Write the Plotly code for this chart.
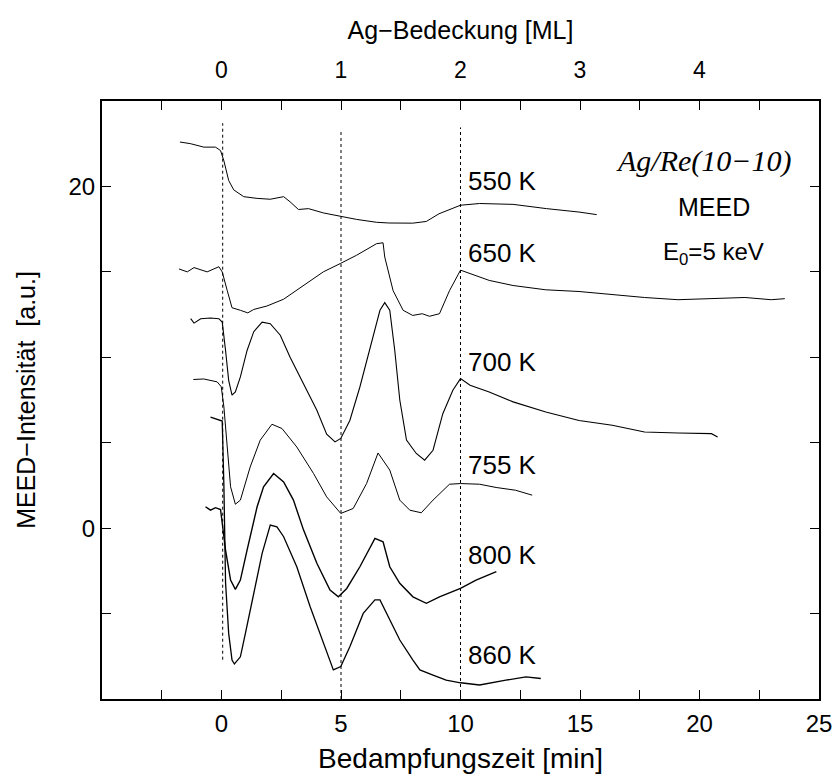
import plotly.graph_objects as go

# ---- data (time in min, intensity in a.u.) ----
x550 = [-1.74, -1.29, -0.74, -0.25, -0.04, 0.1, 0.3, 0.51, 0.93, 1.49, 2.04, 2.6, 2.87, 3.22, 3.64, 4.26,
        4.99, 5.65, 6.49, 7.0, 8.0, 8.57, 9.1, 10.0, 10.8, 12.2, 13.6, 14.4, 14.96, 15.7]
y550 = [22.6, 22.5, 22.3, 22.3, 22.1, 21.5, 20.35, 19.8, 19.4, 19.3, 19.25, 19.4, 19.1, 18.65, 18.7, 18.45,
        18.25, 18.07, 17.9, 17.86, 17.85, 17.95, 18.4, 18.9, 19.0, 18.95, 18.7, 18.6, 18.5, 18.35]

x650 = [-1.78, -1.43, -1.15, -0.6, -0.11, 0.03, 0.24, 0.44, 0.79, 1.1, 1.35, 1.9, 2.6, 3.43, 4.26, 4.99,
        5.65, 6.49, 6.76, 6.83, 7.18, 7.6, 8.0, 8.4, 8.7, 9.12, 9.54, 10.0, 10.4, 11.2, 12.2, 13.57,
        14.96, 16.35, 17.7, 19.1, 20.5, 21.9, 23.0, 23.57]
y650 = [15.17, 15.0, 15.25, 15.0, 15.3, 15.0, 13.9, 12.9, 12.75, 12.6, 12.8, 13.0, 13.4, 14.2, 15.0, 15.5,
        15.97, 16.65, 16.7, 15.87, 13.9, 12.75, 12.45, 12.55, 12.4, 12.55, 13.9, 15.1, 14.9, 14.5, 14.2, 13.95,
        13.85, 13.65, 13.5, 13.37, 13.43, 13.5, 13.37, 13.43]

x700 = [-1.29, -1.15, -0.87, -0.46, -0.11, 0.03, 0.17, 0.3, 0.44, 0.58, 0.79, 1.07, 1.35, 1.7, 2.04, 2.46,
        2.87, 3.43, 3.99, 4.4, 4.75, 4.99, 5.37, 5.79, 6.2, 6.63, 6.83, 7.04, 7.25, 7.46, 7.74, 8.15, 8.5,
        8.85, 9.26, 9.68, 10.0, 10.4, 11.2, 12.2, 13.57, 14.96, 16.35, 17.7, 19.1, 20.5, 20.76]
y700 = [12.26, 12.0, 12.26, 12.3, 12.26, 12.06, 10.4, 8.65, 7.78, 7.97, 8.85, 10.4, 11.5, 12.06, 11.97, 11.29,
        10.0, 8.46, 6.9, 5.5, 5.05, 5.25, 6.3, 8.26, 10.4, 12.75, 13.2, 12.75, 10.4, 7.5, 5.15, 4.37, 3.98,
        4.56, 6.7, 8.07, 8.75, 8.36, 7.97, 7.39, 6.8, 6.3, 6.02, 5.63, 5.57, 5.53, 5.34]

x755 = [-1.18, -0.74, -0.18, -0.01, 0.1, 0.24, 0.38, 0.58, 0.79, 1.2, 1.62, 2.11, 2.53, 3.15, 3.85, 4.4,
        4.99, 5.51, 6.07, 6.55, 7.04, 7.46, 7.88, 8.36, 8.85, 9.54, 10.0, 10.8, 11.49, 12.3, 13.0]
y755 = [8.7, 8.73, 8.56, 8.27, 7.1, 4.56, 2.42, 1.4, 1.64, 3.58, 5.15, 6.08, 5.83, 4.75, 3.2, 1.83,
        0.86, 1.15, 2.61, 4.4, 3.4, 1.64, 1.05, 0.9, 1.64, 2.57, 2.61, 2.57, 2.38, 2.22, 1.93]

x800 = [-0.67, -0.46, -0.25, -0.04, 0.17, 0.38, 0.58, 0.79, 1.07, 1.35, 1.49, 1.76, 2.18, 2.6, 3.01, 3.43,
        3.99, 4.54, 4.89, 5.24, 5.79, 6.42, 6.76, 7.04, 7.46, 8.01, 8.57, 9.12, 10.0, 10.65, 11.2, 11.5]
y800 = [1.25, 1.05, 1.2, 1.09, -1.29, -3.04, -3.58, -3.04, -1.29, 0.47, 1.25, 2.42, 3.2, 2.71, 1.64, -0.1,
        -2.06, -3.63, -4.02, -3.53, -2.26, -0.6, -0.8, -2.26, -3.23, -4.02, -4.4, -4.02, -3.53, -3.04, -2.75, -2.55]

x860 = [-0.46, -0.25, 0.03, 0.1, 0.17, 0.3, 0.44, 0.54, 0.79, 1.0, 1.35, 1.7, 2.04, 2.32, 2.6, 3.15, 3.71,
        4.26, 4.68, 4.99, 5.37, 5.93, 6.42, 6.63, 7.04, 7.46, 8.01, 8.3, 8.85, 9.4, 10.0, 10.8, 11.9, 12.74, 13.36]
y860 = [6.5, 6.4, 6.27, 2.5, -3.2, -6.16, -7.72, -7.95, -7.53, -6.16, -3.82, -1.48, 0.18, 0.08, -0.5, -2.26, -4.6,
        -6.75, -8.3, -8.1, -6.94, -4.99, -4.2, -4.2, -5.38, -6.55, -7.72, -8.3, -8.6, -8.9, -9.05, -9.18, -8.9, -8.7, -8.8]

series = [("550 K", x550, y550, 1.0), ("650 K", x650, y650, 1.0), ("700 K", x700, y700, 1.1),
          ("755 K", x755, y755, 1.0), ("800 K", x800, y800, 1.4), ("860 K", x860, y860, 1.3)]

# curve labels: text, x, y
label_text = ["550 K", "650 K", "700 K", "755 K", "800 K", "860 K"]
label_x = [10.25, 10.25, 10.25, 10.25, 10.25, 10.25]
label_y = [20.3, 16.1, 9.7, 3.7, -1.6, -7.4]

# monolayer marker lines (time in min) and their vertical extents
ml_x = [0.05, 5.0, 10.0]
ml_y0 = [-7.7, -10.0, -10.0]
ml_y1 = [23.7, 23.3, 23.45]

# axis ticks
x_ticks = [0, 5, 10, 15, 20, 25]
ml_ticks = [0, 1, 2, 3, 4]
y_ticks = [0, 20]            # labelled major ticks
y_unlabelled = [10]          # major tick without label
y_minor = [-5, 5, 15]

FONT = "Liberation Sans, Arial, Helvetica, sans-serif"

fig = go.Figure()
for name, xs, ys, w in series:
    fig.add_trace(go.Scatter(x=xs, y=ys, mode="lines", name=name,
                             line=dict(color="black", width=w), showlegend=False,
                             hoverinfo="skip"))

# invisible helper traces so the secondary axes are drawn
fig.add_trace(go.Scatter(x=[0, 4], y=[0, 0], xaxis="x2", mode="lines",
                         line=dict(width=0), showlegend=False, hoverinfo="skip", opacity=0))
fig.add_trace(go.Scatter(x=[0, 1], y=[0, 0], yaxis="y2", mode="lines",
                         line=dict(width=0), showlegend=False, hoverinfo="skip", opacity=0))

for xv, a, b in zip(ml_x, ml_y0, ml_y1):
    fig.add_shape(type="line", x0=xv, x1=xv, y0=a, y1=b, xref="x", yref="y",
                  line=dict(color="black", width=1, dash="dot"), layer="below")

for t, xv, yv in zip(label_text, label_x, label_y):
    fig.add_annotation(x=xv, y=yv, text=t, showarrow=False, xanchor="left", yanchor="middle",
                       font=dict(family=FONT, size=26, color="black"))

fig.add_annotation(x=20.2, y=21.5, text="<i>Ag/Re(10−10)</i>", showarrow=False,
                   font=dict(family="Liberation Serif, Times New Roman, serif", size=30, color="black"))
fig.add_annotation(x=20.6, y=18.8, text="MEED", showarrow=False,
                   font=dict(family=FONT, size=25, color="black"))
fig.add_annotation(x=20.6, y=16.1, text="E<sub>0</sub>=5 keV", showarrow=False,
                   font=dict(family=FONT, size=24, color="black"))

fig.update_layout(
    width=836, height=774,
    margin=dict(l=102, r=17, t=101, b=75),
    paper_bgcolor="white", plot_bgcolor="white",
    font=dict(family=FONT, size=24, color="black"),
    xaxis=dict(range=[-5, 25], tickvals=x_ticks, ticks="inside", ticklen=9, tickwidth=1.2,
               tickcolor="black", showline=True, linecolor="black", linewidth=2, mirror="allticks",
               showgrid=False, zeroline=False, tickfont=dict(size=24), ticklabelstandoff=2,
               automargin=False,
               minor=dict(dtick=2.5, tick0=0, ticks="inside", ticklen=5, tickcolor="black", showgrid=False),
               title=dict(text="Bedampfungszeit [min]", standoff=14, font=dict(size=28))),
    xaxis2=dict(overlaying="x", side="top", range=[-1, 5], tickvals=ml_ticks, ticks="",
                showline=False, showgrid=False, zeroline=False, tickfont=dict(size=23),
                ticklabelstandoff=17, automargin=False,
                title=dict(text="Ag−Bedeckung [ML]", standoff=10, font=dict(size=25))),
    yaxis=dict(range=[-10, 25], tickvals=y_ticks, ticks="inside", ticklen=9,
               tickwidth=1.2, tickcolor="black", showline=True, linecolor="black", linewidth=2,
               mirror="allticks", showgrid=False, zeroline=False, tickfont=dict(size=24),
               automargin=False,
               minor=dict(tickvals=y_minor, ticks="inside", ticklen=5, tickcolor="black", showgrid=False),
               title=dict(text="MEED−Intensität\u00a0 [a.u.]", standoff=26, font=dict(size=25))),
    yaxis2=dict(overlaying="y", side="left", anchor="x", range=[-10, 25], tickvals=y_unlabelled,
                ticks="inside", ticklen=9, tickwidth=1.2, tickcolor="black", showticklabels=False,
                showline=False, mirror="allticks", showgrid=False, zeroline=False, automargin=False),
)

fig.write_html("out.html")
